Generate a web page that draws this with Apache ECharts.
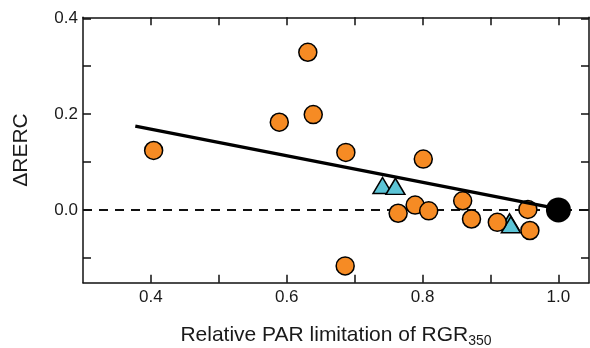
<!DOCTYPE html>
<html>
<head>
<meta charset="utf-8">
<script src="https://cdn.jsdelivr.net/npm/echarts@6/dist/echarts.min.js"></script>
<style>html,body{margin:0;padding:0;background:#fff}#c{width:590px;height:348px}</style>
</head>
<body>
<div id="c"></div>
<script>
// Data
const orangeX = [0.404, 0.589, 0.639, 0.631, 0.687, 0.686, 0.801, 0.764, 0.789, 0.809, 0.859, 0.872, 0.910, 0.955, 0.958];
const orangeY = [0.124, 0.183, 0.199, 0.329, 0.120, -0.117, 0.106, -0.007, 0.010, -0.002, 0.019, -0.019, -0.026, 0.001, -0.043];
const triX = [0.741, 0.760, 0.928, 0.930];
const triY = [0.051, 0.049, -0.025, -0.031];
const refX = [1.0];
const refY = [0.0];
const fitX = [0.377, 1.0];
const fitY = [0.175, 0.002];
const zeroX = [0.3, 1.045];
const zeroY = [0, 0];
const xTicks = [0.4, 0.5, 0.6, 0.7, 0.8, 0.9, 1.0];
const xLabels = [0.4, 0.6, 0.8, 1.0];
const yTicks = [-0.1, 0.0, 0.1, 0.2, 0.3, 0.4];
const yLabels = [0.0, 0.2, 0.4];

const zip = (a, b) => a.map((v, i) => [v, b[i]]);
const font = 'Liberation Sans, Arial, Helvetica, sans-serif';
const lineCol = '#111';
const textCol = '#1a1a1a';

const xBase = {
  type: 'value', min: 0.3, max: 1.045,
  axisLine: {show: true, onZero: false, lineStyle: {color: lineCol, width: 1.5}},
  axisTick: {show: true, inside: true, length: 8, customValues: xTicks, lineStyle: {color: lineCol, width: 1.5}},
  splitLine: {show: false}
};
const yBase = {
  type: 'value', min: -0.152, max: 0.402,
  axisLine: {show: true, onZero: false, lineStyle: {color: lineCol, width: 1.5}},
  axisTick: {show: true, inside: true, length: 8, customValues: yTicks, lineStyle: {color: lineCol, width: 1.5}},
  splitLine: {show: false}
};

const chart = echarts.init(document.getElementById('c'), null, {renderer: 'canvas'});
chart.setOption({
  animation: false,
  backgroundColor: '#fff',
  grid: {left: 83, right: 1, top: 17.3, bottom: 65.3, containLabel: false, outerBoundsMode: 'none'},
  xAxis: [
    Object.assign({}, xBase, {
      position: 'bottom',
      axisLabel: {show: true, customValues: xLabels, formatter: v => v.toFixed(1), color: textCol, fontSize: 17, fontFamily: font, margin: 6},
      name: '{m|Relative PAR limitation of RGR}{s|350}',
      nameLocation: 'middle', nameGap: 41,
      nameTextStyle: {
        rich: {
          m: {fontSize: 21, fontFamily: font, color: textCol, lineHeight: 24},
          s: {fontSize: 14, fontFamily: font, color: textCol, lineHeight: 24, padding: [11, 0, 0, 0]}
        }
      }
    }),
    Object.assign({}, xBase, {position: 'top', axisLabel: {show: false}})
  ],
  yAxis: [
    Object.assign({}, yBase, {
      position: 'left',
      axisLabel: {show: true, customValues: yLabels, formatter: v => v.toFixed(1), color: textCol, fontSize: 17, fontFamily: font, margin: 5},
      name: 'ΔRERC', nameLocation: 'middle', nameGap: 51,
      nameTextStyle: {fontSize: 21, fontFamily: font, color: textCol}
    }),
    Object.assign({}, yBase, {position: 'right', axisLabel: {show: false}})
  ],
  series: [
    {
      type: 'line', data: zip(zeroX, zeroY), symbol: 'none', z: 1,
      lineStyle: {color: '#111', width: 2, type: [9, 7]}
    },
    {
      type: 'scatter', data: zip(triX, triY), symbol: 'triangle', symbolSize: [19, 16], z: 3,
      itemStyle: {color: '#5CC4D6', borderColor: '#000', borderWidth: 1.5, opacity: 1}
    },
    {
      type: 'scatter', data: zip(orangeX, orangeY), symbol: 'circle', symbolSize: 18, z: 4,
      itemStyle: {color: '#F68B24', borderColor: '#000', borderWidth: 1.5, opacity: 1}
    },
    {
      type: 'line', data: zip(fitX, fitY), symbol: 'none', z: 5,
      lineStyle: {color: '#000', width: 3.4}
    },
    {
      type: 'scatter', data: zip(refX, refY), symbol: 'circle', symbolSize: 25, z: 6,
      itemStyle: {color: '#000', opacity: 1}
    }
  ]
});
</script>
</body>
</html>
